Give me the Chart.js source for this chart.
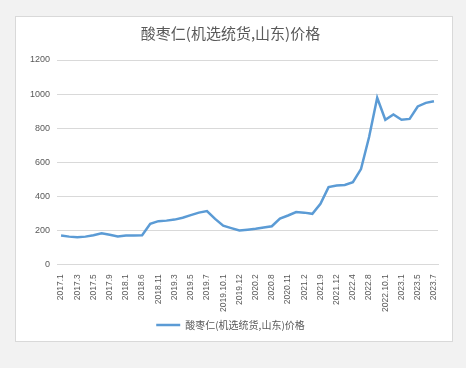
<!DOCTYPE html>
<html>
<head>
<meta charset="utf-8">
<script src="https://cdn.jsdelivr.net/npm/chart.js@4/dist/chart.umd.min.js"></script>
<style>
  html, body { margin: 0; padding: 0; background: #f2f2f2; }
  #box {
    position: absolute; left: 15px; top: 16px; width: 436px; height: 324px;
    background: #fff; border: 1px solid #d9d9d9;
  }
</style>
</head>
<body>
<div id="box"><canvas id="chart"></canvas></div>
<script>
const chartTitle = '酸枣仁(机选统货,山东)价格';
const seriesName = '酸枣仁(机选统货,山东)价格';

const months = [
  '2017.1', '2017.2', '2017.3', '2017.4', '2017.5', '2017.7', '2017.9', '2017.11',
  '2018.1', '2018.3', '2018.6', '2018.9', '2018.11', '2019.1', '2019.3', '2019.4',
  '2019.5', '2019.6', '2019.7', '2019.9', '2019.10.1', '2019.11', '2019.12', '2020.1',
  '2020.2', '2020.5', '2020.8', '2020.10', '2020.11', '2021.1', '2021.2', '2021.5',
  '2021.9', '2021.10', '2021.12', '2022.2', '2022.4', '2022.6', '2022.8', '2022.9',
  '2022.10.1', '2022.12', '2023.1', '2023.3', '2023.5', '2023.6', '2023.7'
];

const prices = [
  169, 162, 158, 162, 170, 182, 173, 163,
  168, 169, 170, 237, 253, 256, 262, 273,
  288, 303, 312, 266, 226, 212, 198, 203,
  208, 215, 223, 268, 286, 306, 303, 296,
  355, 453, 463, 466, 482, 559, 747, 978,
  849, 880, 849, 854, 927, 948, 958
];

const yTicks = [0, 200, 400, 600, 800, 1000, 1200];

const textColor = '#595959';
const gridColor = '#d9d9d9';

new Chart(document.getElementById('chart').getContext('2d'), {
  type: 'line',
  data: {
    labels: months,
    datasets: [{
      label: seriesName,
      data: prices,
      borderColor: '#5b9bd5',
      backgroundColor: '#5b9bd5',
      borderWidth: 2.5,
      pointRadius: 0,
      tension: 0,
      fill: false
    }]
  },
  options: {
    responsive: true,
    maintainAspectRatio: false,
    animation: false,
    layout: { padding: { left: 7, right: 14, top: 3, bottom: 1 } },
    plugins: {
      title: {
        display: true,
        text: chartTitle,
        color: textColor,
        font: { family: '"Noto Sans CJK SC", sans-serif', size: 15, weight: 'normal' },
        padding: { top: 4, bottom: 18 }
      },
      legend: {
        position: 'bottom',
        labels: {
          color: textColor,
          font: { family: '"Noto Sans CJK SC", sans-serif', size: 10 },
          usePointStyle: true,
          pointStyle: 'line',
          pointStyleWidth: 24,
          padding: 6
        }
      },
      tooltip: { enabled: false }
    },
    scales: {
      x: {
        offset: true,
        grid: { display: false },
        border: { color: gridColor },
        ticks: {
          autoSkip: false,
          maxRotation: 90,
          minRotation: 90,
          color: textColor,
          padding: 2,
          font: { family: '"Liberation Sans", sans-serif', size: 8.5 },
          callback: function(value, index) {
            return index % 2 === 0 ? months[index] : '';
          }
        }
      },
      y: {
        min: 0,
        max: 1200,
        afterBuildTicks: function(axis) {
          axis.ticks = yTicks.map(v => ({ value: v }));
        },
        grid: { color: gridColor, drawTicks: false },
        border: { display: false },
        ticks: {
          color: textColor,
          padding: 7,
          font: { family: '"Liberation Sans", sans-serif', size: 9 },
          callback: function(value) { return String(value); }
        }
      }
    }
  }
});
</script>
</body>
</html>
